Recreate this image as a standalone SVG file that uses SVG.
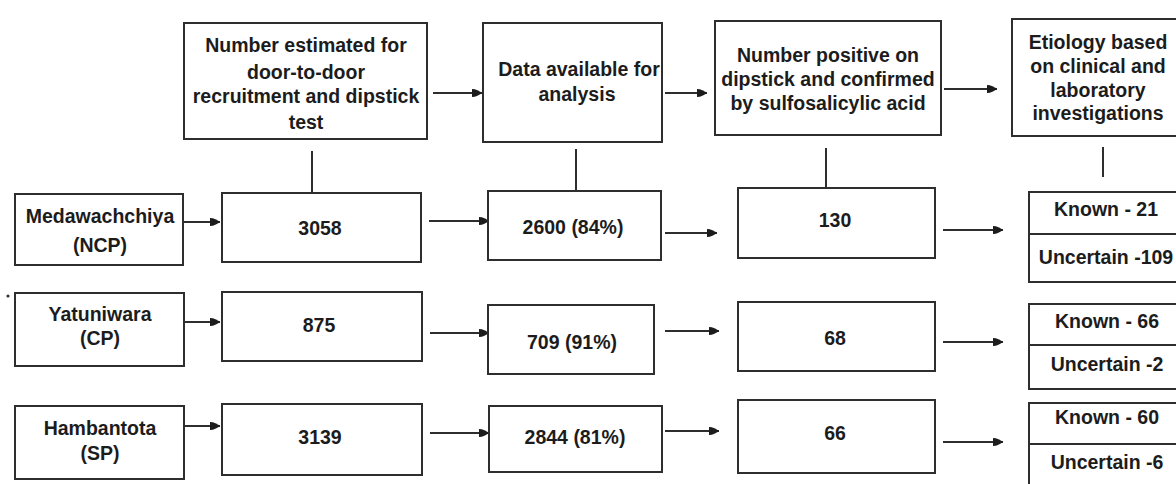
<svg xmlns="http://www.w3.org/2000/svg" width="1176" height="484" viewBox="0 0 1176 484">
<style>
.box{fill:#ffffff;stroke:#2e2e2e;stroke-width:2}
.ln{fill:none;stroke:#2e2e2e;stroke-width:2}
.ar{fill:none;stroke:#2e2e2e;stroke-width:2;marker-end:url(#ah)}
text{font-family:"Liberation Sans",Arial,sans-serif;font-weight:bold;font-size:19.5px;fill:#1c1c1c;text-anchor:middle}
</style>
<defs>
<marker id="ah" markerUnits="userSpaceOnUse" markerWidth="12" markerHeight="10" refX="10" refY="5" orient="auto" viewBox="0 0 12 10">
<path d="M0,1 C4,1 7,3 10,5 C7,7 4,9 0,9 C-0.8,9 -0.8,1 0,1 z" fill="#1c1c1c"/>
</marker>
</defs>
<rect width="1176" height="484" fill="#ffffff"/>

<g id="connectors">
<line class="ar" x1="433" y1="93" x2="482" y2="93"/>
<line class="ar" x1="665" y1="93" x2="707" y2="93"/>
<line class="ar" x1="944" y1="89" x2="997" y2="89"/>
<line class="ln" x1="312" y1="151" x2="312" y2="193"/>
<line class="ln" x1="576" y1="149" x2="576" y2="191"/>
<line class="ln" x1="826" y1="148" x2="826" y2="188"/>
<line class="ln" x1="1103" y1="147" x2="1103" y2="177"/>
<line class="ar" x1="183" y1="222" x2="220" y2="222"/>
<line class="ar" x1="429" y1="221" x2="489" y2="221"/>
<line class="ar" x1="665" y1="233" x2="717" y2="233"/>
<line class="ar" x1="943" y1="230" x2="1003" y2="230"/>
<line class="ar" x1="184" y1="322" x2="220" y2="322"/>
<line class="ar" x1="430" y1="333" x2="489" y2="333"/>
<line class="ar" x1="665" y1="331" x2="719" y2="331"/>
<line class="ar" x1="943" y1="342" x2="1003" y2="342"/>
<line class="ar" x1="184" y1="426" x2="220" y2="426"/>
<line class="ar" x1="430" y1="433" x2="489" y2="433"/>
<line class="ar" x1="665" y1="431" x2="719" y2="431"/>
<line class="ar" x1="943" y1="442" x2="1003" y2="442"/>
</g>

<g id="h1"><rect class="box" x="184" y="23" width="243" height="116"/>
<text x="306" y="52">Number estimated for</text>
<text x="306" y="79">door-to-door</text>
<text x="306" y="103">recruitment and dipstick</text>
<text x="306" y="129">test</text></g>

<g id="h2"><rect class="box" x="483" y="23" width="179" height="119"/>
<text x="579" y="76">Data available for</text>
<text x="577" y="101">analysis</text></g>

<g id="h3"><rect class="box" x="715" y="21" width="226" height="114"/>
<text x="828" y="62">Number positive on</text>
<text x="828" y="86">dipstick and confirmed</text>
<text x="828" y="110">by sulfosalicylic acid</text></g>

<g id="h4"><rect class="box" x="1012" y="19" width="174" height="117"/>
<text x="1098" y="49">Etiology based</text>
<text x="1098" y="73">on clinical and</text>
<text x="1098" y="97">laboratory</text>
<text x="1098" y="120">investigations</text></g>

<g id="r1a"><rect class="box" x="15" y="194" width="168" height="71"/>
<text x="100" y="223">Medawachchiya</text>
<text x="100" y="252">(NCP)</text></g>
<g id="r1b"><rect class="box" x="222" y="193" width="199" height="69"/>
<text x="320" y="235">3058</text></g>
<g id="r1c"><rect class="box" x="488" y="191" width="173" height="69"/>
<text x="573" y="234">2600 (84%)</text></g>
<g id="r1d"><rect class="box" x="738" y="188" width="197" height="70"/>
<text x="835" y="227">130</text></g>
<g id="r1e"><rect class="box" x="1029" y="192" width="157" height="90"/>
<line class="ln" x1="1029" y1="234" x2="1186" y2="234"/>
<text x="1106" y="216">Known - 21</text>
<text x="1106" y="264">Uncertain -109</text></g>

<circle cx="8" cy="296" r="1.6" fill="#333"/>

<g id="r2a"><rect class="box" x="15" y="293" width="169" height="73"/>
<text x="100" y="321">Yatuniwara</text>
<text x="100" y="345">(CP)</text></g>
<g id="r2b"><rect class="box" x="222" y="292" width="200" height="69"/>
<text x="319" y="332">875</text></g>
<g id="r2c"><rect class="box" x="488" y="305" width="166" height="69"/>
<text x="572" y="349">709 (91%)</text></g>
<g id="r2d"><rect class="box" x="738" y="302" width="197" height="69"/>
<text x="835" y="345">68</text></g>
<g id="r2e"><rect class="box" x="1029" y="304" width="157" height="85"/>
<line class="ln" x1="1029" y1="345" x2="1186" y2="345"/>
<text x="1107" y="328">Known - 66</text>
<text x="1107" y="371">Uncertain -2</text></g>

<g id="r3a"><rect class="box" x="15" y="406" width="169" height="73"/>
<text x="100" y="435">Hambantota</text>
<text x="100" y="460">(SP)</text></g>
<g id="r3b"><rect class="box" x="222" y="404" width="200" height="71"/>
<text x="320" y="444">3139</text></g>
<g id="r3c"><rect class="box" x="489" y="406" width="173" height="66"/>
<text x="575" y="444">2844 (81%)</text></g>
<g id="r3d"><rect class="box" x="738" y="400" width="197" height="73"/>
<text x="835" y="440">66</text></g>
<g id="r3e"><rect class="box" x="1029" y="403" width="157" height="90"/>
<line class="ln" x1="1029" y1="444" x2="1186" y2="444"/>
<text x="1107" y="424">Known - 60</text>
<text x="1107" y="469">Uncertain -6</text></g>
</svg>
